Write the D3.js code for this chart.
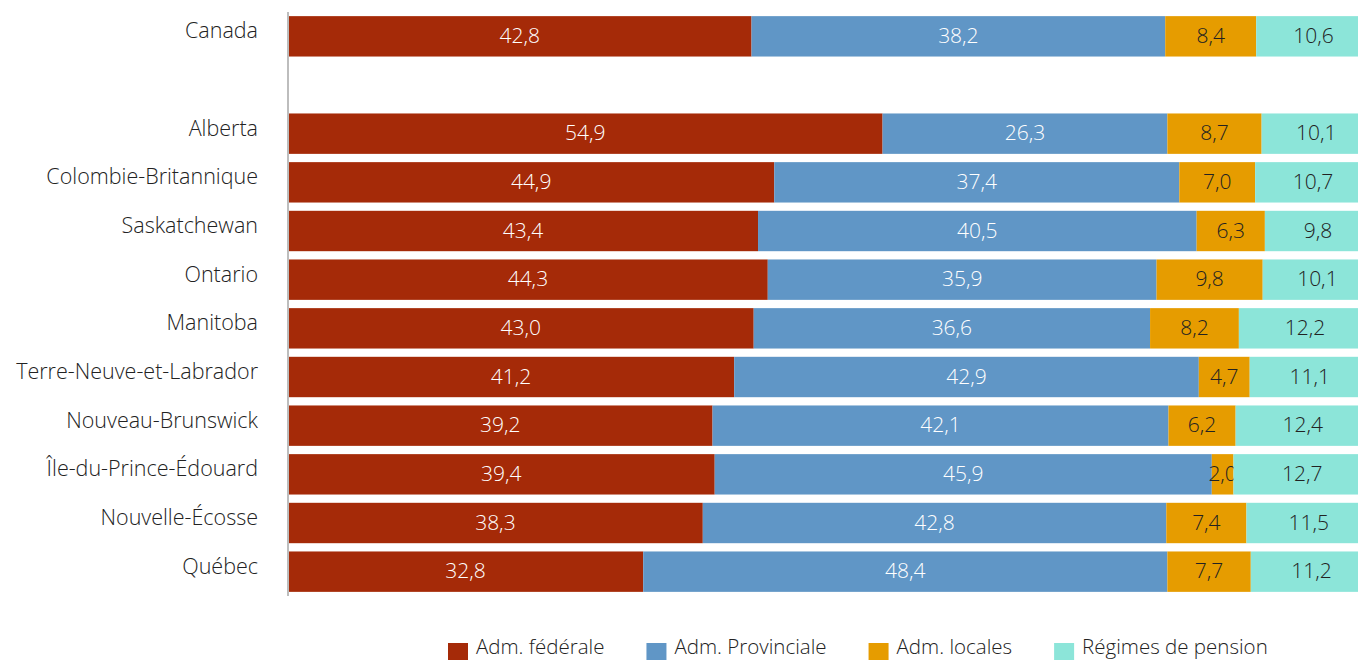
<!DOCTYPE html>
<html><head><meta charset="utf-8">
<script src="https://cdn.jsdelivr.net/npm/d3@7"></script>
<style>
html,body{margin:0;padding:0;background:#fff;}
svg{display:block;font-family:"Open Sans",sans-serif;}
</style></head>
<body><svg id="c" width="1358" height="660"></svg>
<script>
const categories = ["Canada", "", "Alberta", "Colombie-Britannique", "Saskatchewan", "Ontario", "Manitoba", "Terre-Neuve-et-Labrador", "Nouveau-Brunswick", "Île-du-Prince-Édouard", "Nouvelle-Écosse", "Québec"];
const seriesNames = ["Adm. fédérale", "Adm. Provinciale", "Adm. locales", "Régimes de pension"];
const federal    = [42.8, null, 54.9, 44.9, 43.4, 44.3, 43.0, 41.2, 39.2, 39.4, 38.3, 32.8];
const provincial = [38.2, null, 26.3, 37.4, 40.5, 35.9, 36.6, 42.9, 42.1, 45.9, 42.8, 48.4];
const local      = [8.4, null, 8.7, 7.0, 6.3, 9.8, 8.2, 4.7, 6.2, 2.0, 7.4, 7.7];
const pension    = [10.6, null, 10.1, 10.7, 9.8, 10.1, 12.2, 11.1, 12.4, 12.7, 11.5, 11.2];
const colors = ["#A52A08", "#6096C6", "#E69C00", "#8CE5D9"];
const labelColors = ["#ffffff", "#ffffff", "#222222", "#222222"];

const svg = d3.select("#c");
const mLeft = 288, mTop = 12, mBottom = 596;
const x = d3.scaleLinear().domain([0, 100]).range([mLeft, mLeft + 1083]);
const y = d3.scaleBand().domain(categories.map((c, i) => i)).range([mTop, mBottom]).paddingInner(0.17).paddingOuter(0.085);

const seriesVals = [federal, provincial, local, pension];
const rows = categories.map((c, i) => {
  const r = {idx: i};
  seriesNames.forEach((s, j) => r[s] = seriesVals[j][i] || 0);
  return r;
}).filter((r, i) => federal[i] !== null);

const stack = d3.stack().keys(seriesNames)(rows);
const fmt = v => d3.format(".1f")(v).replace(".", ",");

stack.forEach((layer, j) => {
  const g = svg.append("g");
  g.selectAll("rect").data(layer).join("rect")
    .attr("x", d => x(d[0]))
    .attr("y", d => y(d.data.idx))
    .attr("width", d => x(d[1]) - x(d[0]))
    .attr("height", y.bandwidth())
    .attr("fill", colors[j]);
  g.selectAll("text").data(layer).join("text")
    .attr("x", d => (x(d[0]) + x(d[1])) / 2)
    .attr("y", d => y(d.data.idx) + y.bandwidth() / 2)
    .attr("dy", "0.32em")
    .attr("text-anchor", "middle")
    .attr("font-size", 21)
    .attr("font-weight", 300)
    .attr("fill", labelColors[j])
    .text(d => fmt(d[1] - d[0]));
});

// category axis
const yAxis = d3.axisLeft(y).tickSize(0).tickPadding(30).tickFormat(i => categories[i]);
const ag = svg.append("g").attr("transform", `translate(${mLeft},0)`).call(yAxis);
ag.select(".domain").attr("stroke", "#bdbdbd").attr("stroke-width", 2).attr("d", `M0,${mTop}V${mBottom}`);
ag.selectAll("text").attr("font-size", 21.5).attr("font-weight", 300).attr("fill", "#222").attr("font-family", "'Open Sans', sans-serif").attr("dy", "0.1em");

// legend
const lg = svg.append("g");
let lx = 448;
seriesNames.forEach((s, j) => {
  lg.append("rect").attr("x", lx).attr("y", 643).attr("width", 20).attr("height", 20).attr("fill", colors[j]);
  const t = lg.append("text").attr("x", lx + 28).attr("y", 654).attr("font-size", 20.5).attr("font-weight", 300).attr("fill", "#222").text(s);
  lx += 28 + t.node().getComputedTextLength() + 42;
});
</script></body></html>
